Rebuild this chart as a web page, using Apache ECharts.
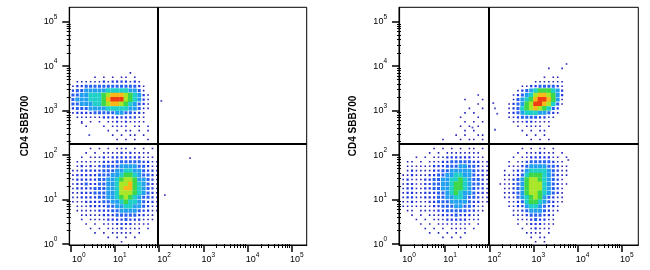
<!DOCTYPE html>
<html><head><meta charset="utf-8">
<script src="https://cdn.jsdelivr.net/npm/echarts@6/dist/echarts.min.js"></script>
<style>html,body{margin:0;padding:0;background:#fff}#c{width:650px;height:270px}</style>
</head><body><div id="c"></div>
<script>
// ---- axis data (log10 units) ----
const decades = [0, 1, 2, 3, 4, 5];
const minorOffsets = [0.301, 0.477, 0.602, 0.699, 0.778, 0.845, 0.903, 0.954];
const yTitle = 'CD4 SBB700';
const gateX = 1.98;    // log10 of vertical gate
const gateY = 2.245;   // log10 of horizontal gate
const cell = 0.1;      // density grid resolution (decades)

// ---- left panel: density levels (0..9), rows top->bottom ----
const L1_x0 = 0.0, L1_yTop = 3.9;
const L1_rows = [
  "0000000000000100000",
  "0000010101011010000",
  "0111111212222121000",
  "1223333333333332100",
  "2334444455555443100",
  "3344555678887654210",
  "3444555689997654210",
  "3344455678876543210",
  "2333444455555443110",
  "1222233333443322100",
  "0111111222222221100",
  "0010101011212111100",
  "0001000101111011010",
  "0000000010101101010",
  "0000000001010110100",
  "0000000000101010010",
  "0000000001000100000"
];
const L2_x0 = 0.0, L2_yTop = 2.2;
const L2_rows = [
  "00001010101110101010",
  "00010101111212111100",
  "00101112122222221110",
  "01111112223333332211",
  "01212123333444433211",
  "11222223334455443221",
  "12222233344566543321",
  "12222233445677644321",
  "12232233445778654321",
  "12222333445788654321",
  "11222333445777654321",
  "11222233445676543321",
  "11122223344565543221",
  "01112222334455443211",
  "01111122233444432211",
  "00111112223333322110",
  "00101111222232221110",
  "00010101112222111100",
  "00001010111211110100",
  "00000101011111010000",
  "00000000101010100000",
  "00000000000100000000"
];
const L_stray = [[2.05, 3.22], [2.70, 1.93], [2.13, 1.10], [0.25, 2.72], [0.42, 2.45]];

// ---- right panel ----
const R1_x0 = 2.0, R1_yTop = 4.1;
const R1_rows = [
  "000000000000000001",
  "000000000000010010",
  "000000000000000000",
  "000000000000101100",
  "000000000011111110",
  "000000011223333210",
  "000000123456665420",
  "000001234578876420",
  "000001345689986410",
  "000012346799875310",
  "000012356787653200",
  "000012345554432100",
  "000011233332211000",
  "000001112211110000",
  "000000101111010000",
  "000000010101100000",
  "000000001010100000",
  "000000000101010000",
  "000000000010100000"
];
const R2_x0 = 0.0, R2_yTop = 3.4;
const R2_rows = [
  "00000000000000000100",
  "00000000000000100010",
  "00000000000000000100",
  "00000000000000010010",
  "00000000000000101000",
  "00000000000001000100",
  "00000000000000101010",
  "00000000000001010100",
  "00000000000000101000",
  "00000000000010100110",
  "00000000010001011010",
  "00000000001010101010",
  "00000001010101011010",
  "00000010101111111100",
  "00010101112222221110",
  "01101011122333332211",
  "01111112223334433211",
  "01211112233444443221",
  "11211122334455443221",
  "12111223344556543321",
  "12211223344566543321",
  "12211223344566543221",
  "12211222334565443221",
  "12211222334455433211",
  "11211122333444432211",
  "11111112233344332110",
  "01101111223333322110",
  "00101011122232221100",
  "00010101112222211100",
  "00001010111111110100",
  "00000101010111101000",
  "00000010101010100000",
  "00000000010101000000",
  "00000000000000000000"
];
const R3_x0 = 2.2, R3_yTop = 2.2;
const R3_rows = [
  "0000010101101000",
  "0000101112111010",
  "0001011222221101",
  "0010112333332110",
  "0011123444433211",
  "0101224555543211",
  "0111235666543211",
  "0112346776543210",
  "1112346777543211",
  "0112346777543210",
  "0112346776543210",
  "0111345676432110",
  "0011235665432110",
  "0011224554322100",
  "0001123444321100",
  "0001112333221000",
  "0000111232211000",
  "0000101222111000",
  "0000010121110000",
  "0000001111010000",
  "0000000101100000",
  "0000000010100000"
];
const R_stray = [[2.09, 3.17], [2.13, 3.05], [2.18, 2.93], [2.13, 2.57], [3.79, 1.89], [1.62, 2.62]];

// ---- styling ----
const levelColors = [null, '#2020b8', '#1f36e0', '#2660f2', '#22a0f0', '#1ed0c8', '#3cd84a', '#a8e628', '#f8b818', '#f03c14'];
const levelSize = [0, 0.36, 0.5, 0.68, 0.9, 1.02, 1.08, 1.08, 1.08, 1.08];

function cellsFrom(x0, yTop, rows) {
  const out = [];
  rows.forEach((row, r) => {
    for (let c = 0; c < row.length; c++) {
      const lv = +row[c];
      if (lv > 0) out.push([x0 + c * cell, yTop - (r + 1) * cell, lv]);
    }
  });
  return out;
}
const leftCells = cellsFrom(L1_x0, L1_yTop, L1_rows).concat(cellsFrom(L2_x0, L2_yTop, L2_rows));
const rightCells = cellsFrom(R1_x0, R1_yTop, R1_rows)
  .concat(cellsFrom(R2_x0, R2_yTop, R2_rows))
  .concat(cellsFrom(R3_x0, R3_yTop, R3_rows));

function renderCell(params, api) {
  const x = api.value(0), y = api.value(1), lv = api.value(2);
  const a = api.coord([x, y + cell]);
  const b = api.coord([x + cell, y]);
  const w = b[0] - a[0], h = b[1] - a[1];
  const f = levelSize[lv];
  const cw = w * f, ch = h * f;
  return {
    type: 'rect',
    shape: { x: a[0] + (w - cw) / 2, y: a[1] + (h - ch) / 2, width: cw, height: ch },
    style: { fill: levelColors[lv] }
  };
}

const minorVals = [];
decades.slice(0, 5).forEach(d => minorOffsets.forEach(o => minorVals.push(+(d + o).toFixed(3))));

const FONT = 'Liberation Sans';
const richX = {
  b: { fontSize: 9, lineHeight: 16, fontFamily: FONT, color: '#000', padding: [0, 0, 0, 10] },
  b0: { fontSize: 9, lineHeight: 16, fontFamily: FONT, color: '#000', padding: [0, 0, 0, 16] },
  s: { fontSize: 6.5, lineHeight: 7, verticalAlign: 'top', fontFamily: FONT, color: '#000' }
};
const richY = {
  b: { fontSize: 9, lineHeight: 16, fontFamily: FONT, color: '#000' },
  s: { fontSize: 6.5, lineHeight: 7, verticalAlign: 'top', fontFamily: FONT, color: '#000' }
};
function fmtX(v) { return (v === 0 ? '{b0|10}' : '{b|10}') + '{s|' + v + '}'; }
function fmtY(v) { return '{b|10}{s|' + v + '}'; }

const panels = [
  { left: 69.3, width: 237.4, xmin: -0.032, xmax: 5.339, title: 25 },
  { left: 399, width: 239.3, xmin: -0.045, xmax: 5.376, title: 353 }
];
const yMin = -0.022, yMax = 5.324;

const grid = [], xAxis = [], yAxis = [];
panels.forEach((p, g) => {
  grid.push({ left: p.left, top: 7.3, width: p.width, height: 237.7, show: true, borderColor: '#000', borderWidth: 1 });
  xAxis.push({
    gridIndex: g, type: 'value', min: p.xmin, max: p.xmax, position: 'bottom',
    axisLine: { show: true, onZero: false, lineStyle: { color: '#000', width: 1.2 } },
    axisTick: { show: true, customValues: decades, length: 7, lineStyle: { color: '#000', width: 1.5 } },
    axisLabel: { customValues: decades, formatter: fmtX, rich: richX, margin: 7 },
    splitLine: { show: false }
  });
  xAxis.push({
    gridIndex: g, type: 'value', min: p.xmin, max: p.xmax, position: 'bottom',
    axisLine: { show: false },
    axisTick: { show: true, customValues: minorVals, length: 4, lineStyle: { color: '#000', width: 1 } },
    axisLabel: { show: false }, splitLine: { show: false }
  });
  yAxis.push({
    gridIndex: g, type: 'value', min: yMin, max: yMax, position: 'left',
    axisLine: { show: true, onZero: false, lineStyle: { color: '#000', width: 1.2 } },
    axisTick: { show: true, customValues: decades, length: 7, lineStyle: { color: '#000', width: 1.5 } },
    axisLabel: { customValues: decades, formatter: fmtY, rich: richY, margin: 12 },
    splitLine: { show: false }
  });
  yAxis.push({
    gridIndex: g, type: 'value', min: yMin, max: yMax, position: 'left',
    axisLine: { show: false },
    axisTick: { show: true, customValues: minorVals, length: 4, lineStyle: { color: '#000', width: 1 } },
    axisLabel: { show: false }, splitLine: { show: false }
  });
});

function panelSeries(g, cells, stray) {
  return [
    { type: 'custom', xAxisIndex: 2 * g, yAxisIndex: 2 * g, renderItem: renderCell, data: cells, clip: true, silent: true, animation: false, z: 2 },
    {
      type: 'scatter', xAxisIndex: 2 * g, yAxisIndex: 2 * g, data: stray, symbol: 'rect', symbolSize: 1.8,
      itemStyle: { color: '#2020b8' }, silent: true, animation: false, z: 10,
      markLine: {
        silent: true, symbol: 'none', animation: false, label: { show: false },
        lineStyle: { color: '#000', width: 2, type: 'solid' },
        data: [{ xAxis: gateX }, { yAxis: gateY }]
      }
    }
  ];
}

const chart = echarts.init(document.getElementById('c'), null, { renderer: 'canvas' });
chart.setOption({
  animation: false,
  backgroundColor: '#fff',
  grid, xAxis, yAxis,
  graphic: panels.map(p => ({
    type: 'text', x: p.title, y: 126, rotation: Math.PI / 2,
    style: { text: yTitle, font: 'bold 10px "Liberation Sans"', fill: '#000', textAlign: 'center', textVerticalAlign: 'middle' }
  })),
  series: panelSeries(0, leftCells, L_stray).concat(panelSeries(1, rightCells, R_stray))
});
</script></body></html>
